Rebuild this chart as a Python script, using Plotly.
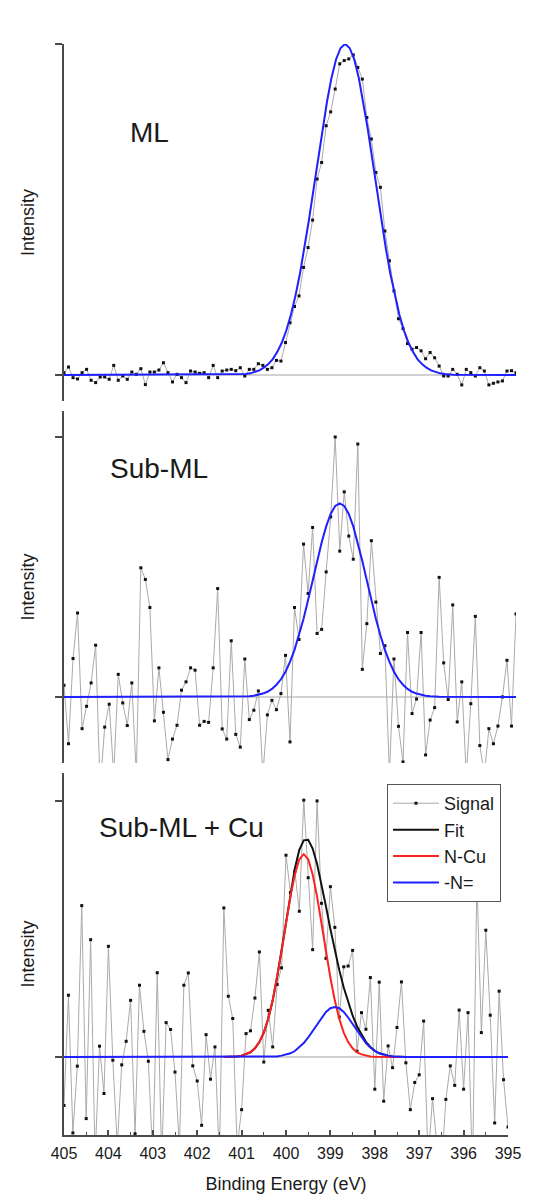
import plotly.graph_objects as go

# ---------------- data ----------------
# binding-energy sampling grid of the measured signal (405.0 -> 395.0 eV, 0.1 eV step)
energy = [round(405.0 - 0.1 * i, 1) for i in range(101)]

sig_ml = [0.007, 0.024, -0.008, -0.012, 0.007, 0.017, -0.016, -0.023, -0.006, -0.006,
          -0.013, 0.029, -0.016, -0.003, -0.013, 0.009, 0.002, 0.019, -0.029, 0.009,
          0.009, 0.015, 0.037, 0.007, -0.021, 0.002, -0.008, -0.023, 0.012, 0.009,
          0.005, 0.007, -0.008, 0.029, -0.008, 0.012, 0.015, 0.017, 0.013, 0.022,
          -0.003, 0.017, 0.017, 0.034, 0.029, 0.017, 0.022, 0.044, 0.042, 0.098,
          0.158, 0.207, 0.239, 0.325, 0.385, 0.468, 0.592, 0.642, 0.753, 0.795,
          0.864, 0.940, 0.950, 0.955, 0.967, 0.929, 0.894, 0.778, 0.713, 0.612,
          0.567, 0.435, 0.345, 0.254, 0.170, 0.140, 0.095, 0.078, 0.083, 0.073,
          0.049, 0.068, 0.052, 0.027, -0.003, -0.003, 0.017, 0.002, -0.030, 0.017,
          0.007, -0.003, 0.022, 0.012, -0.030, -0.025, -0.021, -0.018, 0.012, 0.013, 0.007]

sig_sub = [0.045, -0.18, 0.148, 0.323, -0.122, -0.036, 0.054, 0.199, -0.35, -0.116,
           -0.028, -0.3, 0.087, -0.023, -0.11, 0.054, -0.3, 0.497, 0.452, 0.344,
           -0.092, 0.112, -0.059, -0.241, -0.162, -0.109, 0.026, 0.058, 0.112, 0.103,
           -0.109, -0.094, -0.098, 0.112, 0.417, -0.123, -0.162, 0.216, -0.144, -0.193,
           0.146, -0.087, -0.051, 0.023, -0.3, -0.069, -0.013, -0.049, 0.013, 0.160,
           -0.173, 0.344, 0.221, 0.588, 0.398, 0.652, 0.244, 0.26, 0.481, 0.693,
           1.0, 0.561, 0.789, 0.619, 0.53, 0.973, 0.106, 0.282, 0.601, 0.365,
           0.167, 0.197, -0.3, 0.146, -0.113, -0.25, 0.248, -0.064, -0.008, 0.248,
           -0.223, -0.089, -0.041, 0.46, 0.131, -0.01, 0.354, -0.096, 0.058, -0.3,
           -0.026, 0.31, -0.187, -0.3, -0.122, -0.18, -0.112, 0.0, 0.141, -0.112, 0.319]

sig_cu = [-0.19, 0.241, -0.297, -0.036, 0.591, -0.241, 0.458, -0.4, 0.042, -0.143,
          0.432, -0.013, -0.35, -0.031, 0.061, 0.221, -0.3, 0.28, 0.1, -0.017,
          -0.4, 0.329, -0.4, 0.134, 0.107, -0.059, -0.35, 0.28, 0.328, -0.035,
          -0.094, -0.267, 0.087, -0.087, 0.039, -0.4, 0.582, 0.237, 0.15, -0.35,
          -0.206, 0.091, 0.102, 0.23, 0.41, -0.02, 0.182, 0.039, 0.283, 0.348,
          0.788, 0.642, 0.725, 0.569, 1.003, 0.70, 0.419, 1.0, 0.6, 0.385,
          0.665, 0.506, 0.156, 0.352, 0.355, 0.416, 0.022, 0.173, 0.108, 0.31,
          -0.126, 0.292, -0.173, 0.043, -0.042, 0.115, 0.293, -0.023, -0.206, -0.1,
          -0.07, 0.14, -0.4, -0.163, -0.35, -0.45, -0.166, -0.035, -0.111, 0.183,
          -0.126, 0.173, -0.45, 0.694, 0.095, 0.495, 0.163, -0.258, 0.257, -0.089,
          -0.274]

# fitted envelopes
fit_ml_x = [405.0] + [round(401.18 - 0.1 * k, 2) for k in range(49)] + [395.0]
fit_ml_y = [0.0,
            0.001, 0.002, 0.003, 0.005, 0.009, 0.014, 0.022, 0.033, 0.048, 0.070,
            0.098, 0.135, 0.182, 0.239, 0.306, 0.383, 0.469, 0.560, 0.653, 0.744,
            0.827, 0.899, 0.954, 0.988, 1.000, 0.988, 0.954, 0.899, 0.827, 0.744,
            0.653, 0.560, 0.469, 0.383, 0.306, 0.239, 0.182, 0.135, 0.098, 0.070,
            0.048, 0.033, 0.022, 0.014, 0.009, 0.005, 0.003, 0.002, 0.001,
            0.0]

fit_sub_x = [405.0] + [round(401.1 - 0.1 * k, 1) for k in range(45)] + [395.0]
fit_sub_y = [0.0,
             0.001, 0.002, 0.003, 0.005, 0.008, 0.013, 0.020, 0.031, 0.047, 0.068,
             0.097, 0.135, 0.181, 0.237, 0.301, 0.373, 0.448, 0.523, 0.594, 0.656,
             0.704, 0.735, 0.745, 0.735, 0.704, 0.656, 0.594, 0.523, 0.448, 0.373,
             0.301, 0.237, 0.181, 0.135, 0.097, 0.068, 0.047, 0.031, 0.020, 0.013,
             0.008, 0.005, 0.003, 0.002, 0.001,
             0.0]

cu_x = [round(401.4 - 0.1 * k, 1) for k in range(42)]
fit_cu_y = [0.000, 0.000, 0.001, 0.002, 0.005, 0.010, 0.018, 0.034, 0.058, 0.095,
            0.149, 0.221, 0.311, 0.417, 0.529, 0.640, 0.736, 0.809, 0.846, 0.848,
            0.814, 0.754, 0.675, 0.588, 0.499, 0.415, 0.339, 0.271, 0.212, 0.162,
            0.119, 0.086, 0.059, 0.039, 0.024, 0.014, 0.008, 0.005, 0.002, 0.001,
            0.000, 0.000]
ncu_y = [0.000, 0.000, 0.001, 0.002, 0.005, 0.010, 0.018, 0.034, 0.058, 0.095,
         0.149, 0.220, 0.309, 0.412, 0.521, 0.626, 0.713, 0.772, 0.792, 0.772,
         0.713, 0.626, 0.521, 0.412, 0.309, 0.220, 0.149, 0.095, 0.058, 0.034,
         0.018, 0.010, 0.005, 0.002, 0.001, 0.000, 0.000, 0.000, 0.000, 0.000,
         0.000, 0.000]

nn_x = [405.0] + [round(400.5 - 0.1 * k, 1) for k in range(33)] + [395.0]
nn_y = [0.0,
        0.000, 0.0005, 0.001, 0.002, 0.005, 0.008, 0.014, 0.023, 0.037, 0.054,
        0.076, 0.101, 0.128, 0.154, 0.176, 0.190, 0.195, 0.190, 0.176, 0.154,
        0.128, 0.101, 0.076, 0.054, 0.037, 0.023, 0.014, 0.008, 0.005, 0.002,
        0.001, 0.0005, 0.0,
        0.0]

panel_labels = ["ML", "Sub-ML", "Sub-ML + Cu"]
legend_names = ["Signal", "Fit", "N-Cu", "-N="]

# ---------------- style ----------------
FONT = "Liberation Sans, Arial, sans-serif"
TXT = "#1a1a1a"
AX = "#4a4a4a"
SIG_LINE = "#aaaaaa"
BLUE = "#1f1fff"
RED = "#ff2020"
BLACK = "#111111"

sig_style = dict(mode="lines+markers",
                 line=dict(color=SIG_LINE, width=1),
                 marker=dict(symbol="square", size=3, color="#111111"))

fig = go.Figure()

# top panel (ML)
fig.add_trace(go.Scatter(x=energy, y=sig_ml, xaxis="x3", yaxis="y3", showlegend=False, **sig_style))
fig.add_trace(go.Scatter(x=fit_ml_x, y=fit_ml_y, xaxis="x3", yaxis="y3", mode="lines",
                         line=dict(color=BLUE, width=2), showlegend=False))
# middle panel (Sub-ML)
fig.add_trace(go.Scatter(x=energy, y=sig_sub, xaxis="x2", yaxis="y2", showlegend=False, **sig_style))
fig.add_trace(go.Scatter(x=fit_sub_x, y=fit_sub_y, xaxis="x2", yaxis="y2", mode="lines",
                         line=dict(color=BLUE, width=2), showlegend=False))
# bottom panel (Sub-ML + Cu)
fig.add_trace(go.Scatter(x=energy, y=sig_cu, xaxis="x", yaxis="y", name=legend_names[0], **sig_style))
fig.add_trace(go.Scatter(x=cu_x, y=fit_cu_y, xaxis="x", yaxis="y", mode="lines",
                         name=legend_names[1], line=dict(color=BLACK, width=2)))
fig.add_trace(go.Scatter(x=cu_x, y=ncu_y, xaxis="x", yaxis="y", mode="lines",
                         name=legend_names[2], line=dict(color=RED, width=2)))
fig.add_trace(go.Scatter(x=nn_x, y=nn_y, xaxis="x", yaxis="y", mode="lines",
                         name=legend_names[3], line=dict(color=BLUE, width=2)))

yax_common = dict(showline=True, linecolor=AX, linewidth=1.5, automargin=False,
                  ticks="outside", ticklen=7, tickwidth=1.5, tickcolor=AX,
                  tickvals=[0, 1], showticklabels=False,
                  showgrid=False, zeroline=True, zerolinecolor="#d2d2d2", zerolinewidth=1.5,
                  title=dict(text="Intensity", font=dict(size=18, color=TXT, family=FONT), standoff=16))

PANEL3_W = 0.9823  # bottom panel is slightly narrower than the two upper ones

fig.update_layout(
    width=544, height=1200,
    margin=dict(l=64, r=28, t=44, b=65),
    paper_bgcolor="white", plot_bgcolor="white",
    font=dict(family=FONT, color=TXT),
    xaxis=dict(domain=[0, PANEL3_W], anchor="y", range=[405, 395], automargin=False,
               showline=True, linecolor=AX, linewidth=1.5,
               ticks="inside", ticklen=5, tickwidth=1.5, tickcolor=AX,
               tick0=395, dtick=1,
               minor=dict(ticks="inside", ticklen=3, tickwidth=1.2, tickcolor=AX, dtick=0.5),
               tickfont=dict(size=16, color=TXT), ticklabelstandoff=3,
               showgrid=False, zeroline=False,
               title=dict(text="Binding Energy (eV)", font=dict(size=18, color=TXT), standoff=16)),
    xaxis2=dict(domain=[0, 1], anchor="y2", range=[405, 395], visible=False),
    xaxis3=dict(domain=[0, 1], anchor="y3", range=[405, 395], visible=False),
    yaxis=dict(domain=[0, 0.3318], range=[-0.305, 1.109], anchor="x", **yax_common),
    yaxis2=dict(domain=[0.341, 0.6636], range=[-0.254, 1.1], anchor="x2", **yax_common),
    yaxis3=dict(domain=[0.6728, 1.0], range=[-0.0785, 1.0], anchor="x3", **yax_common),
    legend=dict(x=0.7146, y=0.3217, xanchor="left", yanchor="top",
                bgcolor="white", bordercolor="#555555", borderwidth=1,
                itemwidth=46,
                font=dict(size=18, color=TXT), tracegroupgap=0),
)

label_pos = [(0.1416, 0.919), (0.0973, 0.611), (0.073, 0.282)]
for text, (px, py) in zip(panel_labels, label_pos):
    fig.add_annotation(text=text, x=px, y=py, xref="paper", yref="paper",
                       xanchor="left", yanchor="middle", showarrow=False,
                       font=dict(size=28, color=TXT, family=FONT))

fig.write_html("out.html")
